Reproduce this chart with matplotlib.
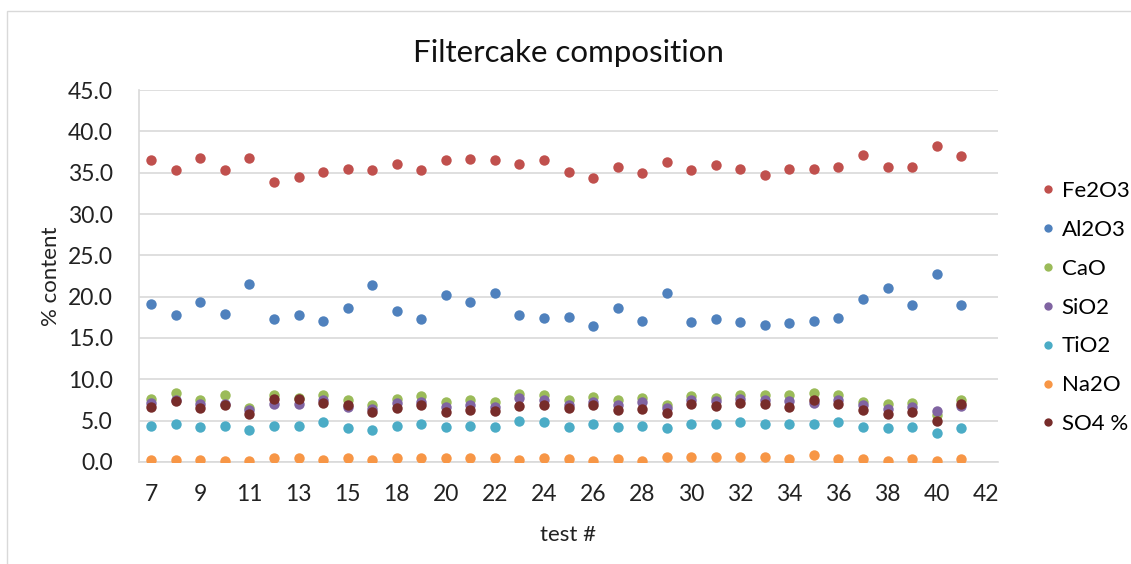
import matplotlib
matplotlib.use("Agg")
import matplotlib.pyplot as plt
from matplotlib.patches import Rectangle
from matplotlib.lines import Line2D

plt.rcParams['font.family'] = ['Lato', 'DejaVu Sans']

# test numbers on the category axis (42 has no results yet)
tests = [7, 8, 9, 10, 11, 12, 13, 14, 15, 16, 18, 19, 20, 21, 22, 23, 24, 25,
         26, 27, 28, 29, 30, 31, 32, 33, 34, 35, 36, 37, 38, 39, 40, 41, 42]

fe2o3 = [36.5, 35.3, 36.8, 35.3, 36.8, 33.9, 34.5, 35.1, 35.4, 35.3, 36.1, 35.3,
         36.5, 36.6, 36.5, 36.1, 36.5, 35.1, 34.4, 35.7, 34.9, 36.3, 35.3, 35.9,
         35.4, 34.7, 35.4, 35.4, 35.7, 37.1, 35.7, 35.7, 38.2, 37.0]
al2o3 = [19.1, 17.8, 19.3, 17.9, 21.5, 17.3, 17.8, 17.1, 18.6, 21.4, 18.3, 17.3,
         20.2, 19.3, 20.5, 17.8, 17.4, 17.6, 16.4, 18.6, 17.1, 20.4, 16.9, 17.3,
         16.9, 16.6, 16.8, 17.1, 17.4, 19.7, 21.0, 19.0, 22.8, 19.0]
cao = [7.65, 8.3, 7.45, 8.05, 6.5, 8.05, 7.8, 8.15, 7.45, 6.85, 7.65, 7.95,
       7.25, 7.55, 7.2, 8.25, 8.15, 7.55, 7.85, 7.45, 7.75, 6.9, 8.0, 7.8,
       8.15, 8.05, 8.05, 8.35, 8.15, 7.25, 7.0, 7.1, 5.7, 7.55]
sio2 = [7.1, 7.5, 7.0, 7.0, 6.25, 7.0, 7.0, 7.55, 6.65, 6.4, 7.1, 7.3,
        6.7, 6.95, 6.7, 7.75, 7.55, 6.95, 7.3, 6.85, 7.25, 6.5, 7.55, 7.4,
        7.65, 7.55, 7.4, 7.1, 7.55, 6.85, 6.45, 6.7, 6.2, 6.75]
tio2 = [4.4, 4.6, 4.2, 4.4, 3.9, 4.4, 4.4, 4.8, 4.1, 3.9, 4.4, 4.6,
        4.2, 4.4, 4.2, 4.9, 4.8, 4.2, 4.6, 4.2, 4.4, 4.1, 4.6, 4.6,
        4.8, 4.6, 4.6, 4.6, 4.8, 4.2, 4.1, 4.2, 3.5, 4.1]
na2o = [0.25, 0.25, 0.25, 0.1, 0.1, 0.45, 0.45, 0.25, 0.45, 0.25, 0.45, 0.45,
        0.45, 0.45, 0.45, 0.25, 0.45, 0.35, 0.15, 0.35, 0.15, 0.55, 0.55, 0.55,
        0.55, 0.55, 0.35, 0.8, 0.35, 0.35, 0.15, 0.35, 0.15, 0.35]
so4 = [6.65, 7.4, 6.5, 6.9, 5.8, 7.65, 7.65, 7.15, 6.9, 6.0, 6.5, 6.85,
       6.1, 6.3, 6.2, 6.8, 6.9, 6.5, 6.85, 6.3, 6.45, 5.9, 7.0, 6.8,
       7.15, 7.0, 6.6, 7.55, 7.0, 6.3, 5.8, 6.0, 5.0, 7.0]

series = [
    ("Fe2O3", fe2o3, "#C0504D"),
    ("Al2O3", al2o3, "#4F81BD"),
    ("CaO", cao, "#9BBB59"),
    ("SiO2", sio2, "#8064A2"),
    ("TiO2", tio2, "#4BACC6"),
    ("Na2O", na2o, "#F79646"),
    ("SO4 %", so4, "#772C2A"),
]

fig = plt.figure(figsize=(11.31, 5.64), dpi=100)
ax = fig.add_axes([139 / 1131, 1 - 462 / 564, 859 / 1131, 372 / 564])

handles = []
for name, vals, col in series:
    ax.plot(range(len(vals)), vals, linestyle="none", marker="o",
            markersize=7.5, markeredgewidth=0, color=col, zorder=3)
    handles.append(Line2D([], [], linestyle="none", marker="o", markersize=6,
                          markeredgewidth=0, color=col, label=name))

ax.set_xlim(-0.5, len(tests) - 0.5)
ax.set_ylim(0, 45)
ax.set_yticks(range(0, 46, 5))
ax.set_yticklabels(["%.1f" % v for v in range(0, 46, 5)])
ax.set_xticks(range(0, len(tests), 2))
ax.set_xticklabels([str(t) for t in tests[::2]])

ax.grid(axis="y", color="#D9D9D9", linewidth=1.2, zorder=0)
for s in ["top", "right"]:
    ax.spines[s].set_visible(False)
ax.spines["left"].set_color("#D9D9D9")
ax.spines["bottom"].set_color("#D9D9D9")
ax.spines["left"].set_linewidth(1.2)
ax.spines["bottom"].set_linewidth(1.2)
ax.tick_params(length=0, labelsize=16.5, colors="#222222")
ax.tick_params(axis="y", pad=19)
ax.tick_params(axis="x", pad=16)

ax.set_xlabel("test #", fontsize=16, color="#222222", labelpad=14)
ax.set_ylabel("% content", fontsize=16, color="#222222", labelpad=5)
fig.text(568 / 1131, 1 - 53 / 564, "Filtercake composition", fontsize=22.5,
         ha="center", va="center", color="#111111")

fig.legend(handles=handles, loc="upper left", bbox_to_anchor=(1026 / 1131, 1 - 172 / 564),
           frameon=False, fontsize=16, labelspacing=0.85, handletextpad=0.0,
           handlelength=1.2, borderaxespad=0)

# light frame around the chart area
fig.patches.append(Rectangle((7 / 1131, -0.05), 1.1, 1 - 11 / 564 + 0.05,
                             transform=fig.transFigure, fill=False,
                             edgecolor="#D9D9D9", linewidth=1))

fig.savefig("out.png", dpi=100)
